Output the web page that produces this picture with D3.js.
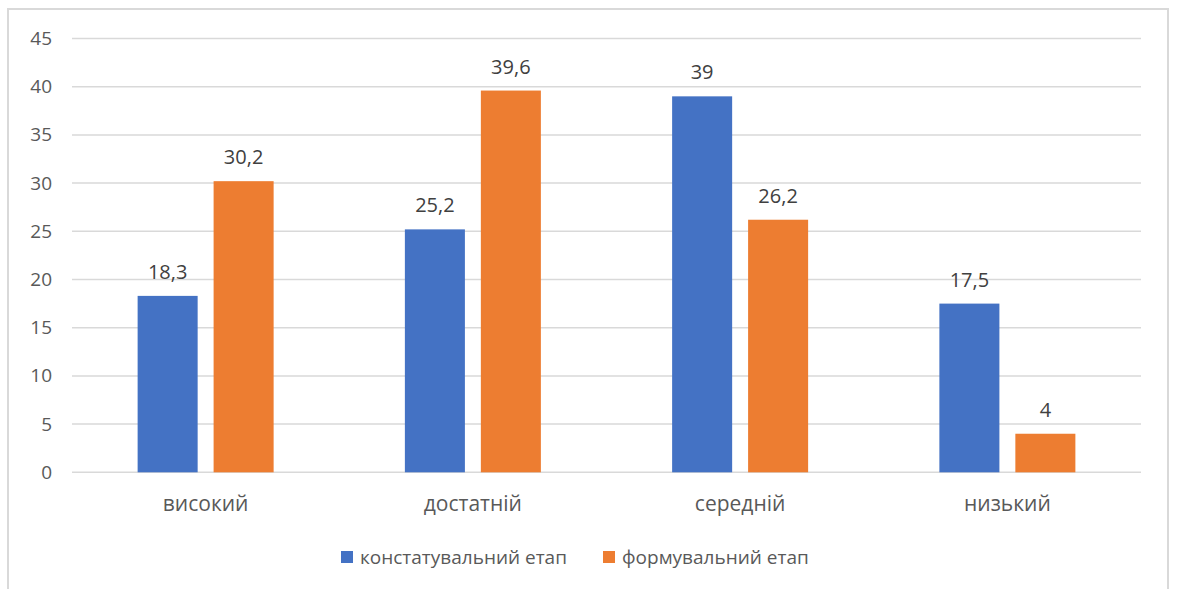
<!DOCTYPE html>
<html lang="uk">
<head>
<meta charset="UTF-8">
<title>Рівні</title>
<script src="https://d3js.org/d3.v7.min.js"></script>
<style>
  body { margin: 0; background: #fff; }
  svg { display: block; font-family: "Open Sans", "Liberation Sans", sans-serif; }
  .tick text { fill: #595959; }
</style>
</head>
<body>
<div id="chart"></div>
<script>
const categories = ["високий", "достатній", "середній", "низький"];
const seriesNames = ["констатувальний етап", "формувальний етап"];
const konstat = [18.3, 25.2, 39, 17.5];
const formuv = [30.2, 39.6, 26.2, 4];
const yTicks = [0, 5, 10, 15, 20, 25, 30, 35, 40, 45];
const colors = ["#4472C4", "#ED7D31"];

const W = 1177, H = 589;
const plotL = 72, plotR = 1141, plotT = 38.5, plotB = 472.3;

const svg = d3.select("#chart").append("svg")
  .attr("width", W).attr("height", H);

// chart frame
svg.append("rect")
  .attr("x", 8).attr("y", 9).attr("width", 1160).attr("height", 600)
  .attr("fill", "none").attr("stroke", "#d9d9d9").attr("stroke-width", 2);

const y = d3.scaleLinear().domain([0, 45]).range([plotB, plotT]);
const x0 = d3.scaleBand().domain(categories).range([plotL, plotR]).padding(0);
const x1 = d3.scaleBand().domain(seriesNames).range([0, 136]).paddingInner(0.21);
const offset = (x0.bandwidth() - 136) / 2;

// gridlines
svg.append("g").selectAll("line").data(yTicks).join("line")
  .attr("x1", plotL).attr("x2", plotR)
  .attr("y1", d => y(d)).attr("y2", d => y(d))
  .attr("stroke", "#d9d9d9").attr("stroke-width", 1.5);

// y axis labels
const yAxis = svg.append("g")
  .attr("transform", `translate(${plotL - 20},0)`)
  .call(d3.axisLeft(y).tickValues(yTicks).tickSize(0).tickPadding(0));
yAxis.select(".domain").remove();
yAxis.selectAll("text").attr("font-size", 19).attr("font-family", "'Open Sans', sans-serif");

const rows = categories.map((c, i) => ({ cat: c, vals: [konstat[i], formuv[i]] }));

const groups = svg.append("g").selectAll("g").data(rows).join("g")
  .attr("transform", d => `translate(${x0(d.cat) + offset},0)`);

groups.selectAll("rect")
  .data(d => d.vals.map((v, j) => ({ name: seriesNames[j], v, j })))
  .join("rect")
  .attr("x", d => x1(d.name))
  .attr("width", x1.bandwidth())
  .attr("y", d => y(d.v))
  .attr("height", d => y(0) - y(d.v))
  .attr("fill", d => colors[d.j]);

groups.selectAll("text.val")
  .data(d => d.vals.map((v, j) => ({ name: seriesNames[j], v, j })))
  .join("text")
  .attr("class", "val")
  .attr("x", d => x1(d.name) + x1.bandwidth() / 2)
  .attr("y", d => y(d.v) - 17)
  .attr("text-anchor", "middle")
  .attr("font-size", 20)
  .attr("fill", "#404040")
  .text(d => String(d.v).replace(".", ","));

// category labels
svg.append("g").selectAll("text").data(categories).join("text")
  .attr("x", d => x0(d) + x0.bandwidth() / 2)
  .attr("y", 511)
  .attr("text-anchor", "middle")
  .attr("font-size", 21)
  .attr("fill", "#595959")
  .text(d => d);

// legend
const legendX = [341, 603];
const legend = svg.append("g").selectAll("g").data(seriesNames).join("g")
  .attr("transform", (d, i) => `translate(${legendX[i]},551)`);
legend.append("rect").attr("width", 12).attr("height", 12)
  .attr("fill", (d, i) => colors[i]);
legend.append("text")
  .attr("x", 19).attr("y", 13)
  .attr("font-size", 19)
  .attr("fill", "#595959")
  .text(d => d);
</script>
</body>
</html>
